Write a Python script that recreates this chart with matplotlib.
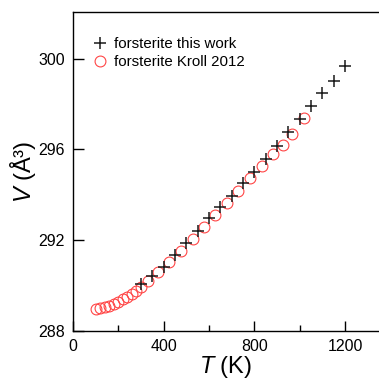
import matplotlib
matplotlib.use("Agg")
import matplotlib.pyplot as plt
from matplotlib.ticker import MultipleLocator

plt.rcParams["font.family"] = ["Liberation Sans", "DejaVu Sans"]
plt.rcParams["mathtext.fontset"] = "custom"
plt.rcParams["mathtext.it"] = "Liberation Sans:italic"
plt.rcParams["mathtext.rm"] = "Liberation Sans"

# forsterite, this work
t_this = [300, 350, 400, 450, 500, 550, 600, 650, 700, 750,
          800, 850, 900, 950, 1000, 1050, 1100, 1150, 1200]
v_this = [290.06, 290.42, 290.80, 291.35, 291.88, 292.41, 292.96, 293.47, 293.96, 294.54,
          295.00, 295.58, 296.16, 296.75, 297.34, 297.93, 298.49, 299.03, 299.69]

# forsterite, Kroll 2012
t_kroll = [100, 120, 140, 160, 180, 200, 220, 240, 260, 280, 300,
           330, 375, 425, 475, 528, 578, 626, 678, 726, 780, 832, 884, 925, 967, 1018]
v_kroll = [288.97, 289.00, 289.05, 289.12, 289.20, 289.29, 289.39, 289.50, 289.63, 289.78, 289.95,
           290.22, 290.58, 291.02, 291.52, 292.06, 292.58, 293.10, 293.64, 294.16, 294.74,
           295.28, 295.78, 296.20, 296.68, 297.40]

fig = plt.figure(figsize=(3.79, 3.81), dpi=100)
ax = fig.add_axes([0.1926, 0.1312, 0.8074, 0.8373])

ax.plot(t_this, v_this, linestyle="none", marker="+", markersize=9,
        markeredgewidth=1.1, color="#1a1a1a", label="forsterite this work", zorder=3)
ax.plot(t_kroll, v_kroll, linestyle="none", marker="o", markersize=7.8,
        markerfacecolor="none", markeredgewidth=0.8, color="#ff4545",
        label="forsterite Kroll 2012", zorder=2)

ax.set_xlim(0, 1350)
ax.set_ylim(288, 302.05)
ax.xaxis.set_major_locator(MultipleLocator(400))
ax.xaxis.set_minor_locator(MultipleLocator(200))
ax.yaxis.set_major_locator(MultipleLocator(4))

ax.spines["right"].set_visible(False)
for s in ("left", "bottom", "top"):
    ax.spines[s].set_linewidth(1.0)
ax.tick_params(axis="x", which="major", direction="in", length=7.5, width=1.0,
               labelsize=11.5, pad=6)
ax.tick_params(axis="x", which="minor", direction="in", length=4.5, width=1.0)
ax.tick_params(axis="y", which="major", direction="in", length=8, width=1.0,
               labelsize=11.5, pad=6, right=False)

ax.set_xlabel(r"$T$ (K)", fontsize=17, labelpad=0)
ax.set_ylabel(r"$V$ (Å³)", fontsize=17, labelpad=0)

ax.legend(loc="upper left", bbox_to_anchor=(0.03, 0.955), frameon=False,
          fontsize=10.8, handlelength=1.0, handletextpad=0.4, labelspacing=0.3,
          borderaxespad=0.3)

fig.savefig("out.png", dpi=100)
